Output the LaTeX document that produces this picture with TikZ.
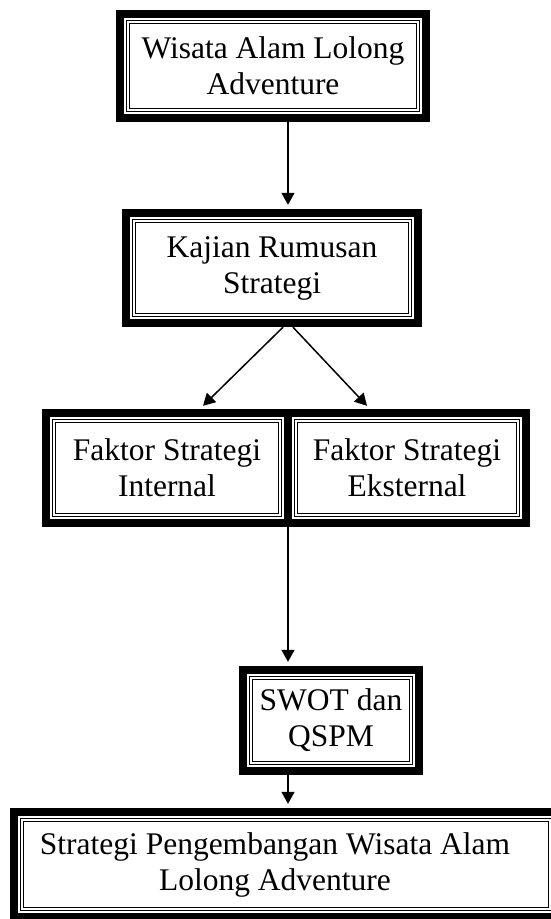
\documentclass[tikz,border=0pt]{standalone}
\usepackage{fontspec}
\setmainfont{Liberation Serif}
\usetikzlibrary{arrows.meta}

% thick-thin-thin frame round a named node
\newcommand\ttframe[1]{%
  \draw[line width=8pt] ([shift={(4,4)}]#1.north west) rectangle ([shift={(-4,-4)}]#1.south east);
  \draw[line width=1.4pt] ([shift={(10.6,10.6)}]#1.north west) rectangle ([shift={(-10.6,-10.6)}]#1.south east);
  \draw[line width=1pt] ([shift={(13.4,13.4)}]#1.north west) rectangle ([shift={(-13.4,-13.4)}]#1.south east);}

\tikzset{
  stagebox/.style={inner sep=0pt, align=center, font=\fontsize{31.5}{36}\selectfont},
  flowarrow/.style={line width=1.5pt, -{Triangle[length=12pt,width=13pt]}}
}

\begin{document}
\begin{tikzpicture}[x=1pt,y=-1pt]
\useasboundingbox (0,0) rectangle (550,919);

\node[stagebox, minimum width=314pt, minimum height=112pt] (wisata) at (273,66) {Wisata Alam Lolong\\Adventure};
\node[stagebox, minimum width=300pt, minimum height=118pt] (kajian) at (272,268) {Kajian Rumusan\\Strategi};
\node[stagebox, minimum width=250pt, minimum height=118pt] (internal) at (167,468) {Faktor Strategi\\Internal};
\node[stagebox, minimum width=246pt, minimum height=118pt] (eksternal) at (407,468) {Faktor Strategi\\Eksternal};
\node[stagebox, minimum width=184pt, minimum height=109pt] (swot) at (331,720.5) {SWOT dan\\QSPM};
\node[stagebox, minimum width=552pt, minimum height=113pt] (hasil) at (286,864.5) {Strategi Pengembangan Wisata Alam\hspace*{22pt}\\Lolong Adventure\hspace*{22pt}};

\ttframe{wisata}
\ttframe{kajian}
\ttframe{internal}
\ttframe{eksternal}
\ttframe{swot}
\ttframe{hasil}

\coordinate (a1) at (288,0);
\coordinate (k1) at (283,0);
\coordinate (k2) at (293,0);
\coordinate (i1) at (203,0);
\coordinate (e1) at (367,0);

\draw[flowarrow] (wisata.south -| a1) -- ([yshift=4pt]kajian.north -| a1);
\draw[flowarrow] (kajian.south -| k1) -- ([yshift=3pt]internal.north -| i1);
\draw[flowarrow] (kajian.south -| k2) -- ([yshift=3pt]eksternal.north -| e1);
\draw[flowarrow] (internal.south -| a1) -- ([yshift=4pt]swot.north -| a1);
\draw[flowarrow] (swot.south -| a1) -- ([yshift=4pt]hasil.north -| a1);
\end{tikzpicture}
\end{document}
